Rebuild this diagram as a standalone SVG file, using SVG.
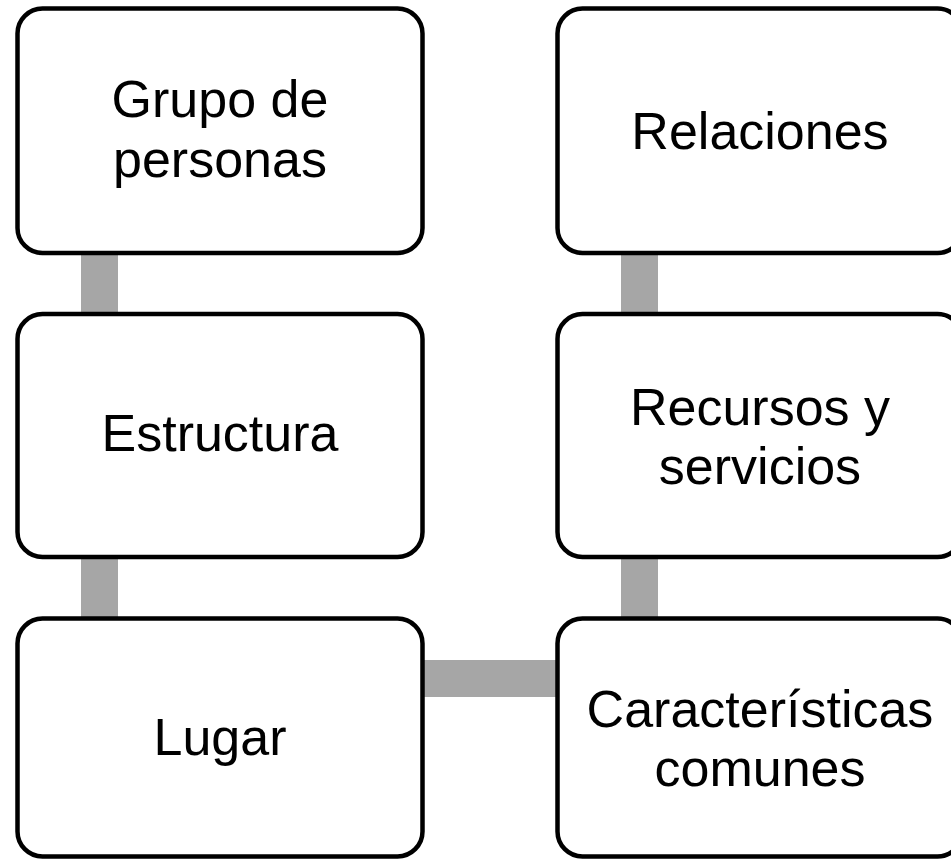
<svg xmlns="http://www.w3.org/2000/svg" width="951" height="861" viewBox="0 0 951 861">
<style>
.box{fill:#fff;stroke:#000;stroke-width:4.5}
.conn{fill:#a6a6a6}
text{font-family:"Liberation Sans",Arial,sans-serif;font-size:52px;fill:#000;text-anchor:middle}
</style>
<rect width="951" height="861" fill="#fff"/>
<g id="connectors">
<rect class="conn" x="81" y="250" width="37" height="66"/>
<rect class="conn" x="81" y="555" width="37" height="66"/>
<rect class="conn" x="621" y="250" width="37" height="66"/>
<rect class="conn" x="621" y="555" width="37" height="66"/>
<rect class="conn" x="420" y="660" width="140" height="37"/>
</g>
<g id="grupo">
<rect class="box" x="17.5" y="8.5" width="405" height="244.5" rx="25"/>
<text x="220" y="117">Grupo de</text>
<text x="220" y="177">personas</text>
</g>
<g id="estructura">
<rect class="box" x="17.5" y="314" width="405" height="243" rx="25"/>
<text x="220" y="451">Estructura</text>
</g>
<g id="lugar">
<rect class="box" x="17.5" y="618.5" width="405" height="238" rx="25"/>
<text x="220" y="755">Lugar</text>
</g>
<g id="relaciones">
<rect class="box" x="557.5" y="8.5" width="405" height="244.5" rx="25"/>
<text x="760" y="149">Relaciones</text>
</g>
<g id="recursos">
<rect class="box" x="557.5" y="314" width="405" height="243" rx="25"/>
<text x="760" y="425">Recursos y</text>
<text x="760" y="484">servicios</text>
</g>
<g id="caracteristicas">
<rect class="box" x="557.5" y="618.5" width="405" height="238" rx="25"/>
<text x="760" y="727">Características</text>
<text x="760" y="786">comunes</text>
</g>
</svg>
